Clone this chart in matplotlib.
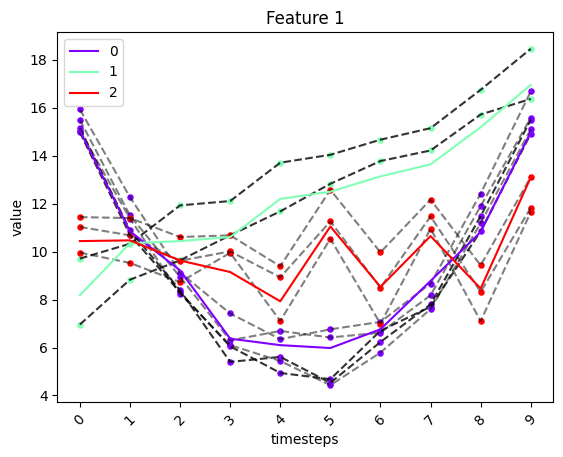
import matplotlib
matplotlib.use("Agg")
import matplotlib.pyplot as plt
import numpy as np

timesteps = list(range(10))
tick_labels = [str(t) for t in timesteps]

# cluster 0 (purple) member series
p1 = [15.93, 12.27, 9.13, 7.42, 6.35, 6.76, 7.07, 8.67, 12.42, 16.68]
p2 = [15.50, 11.51, 8.95, 6.30, 6.69, 6.42, 6.62, 8.18, 11.90, 15.58]
p3 = [15.05, 11.38, 8.25, 6.10, 5.44, 4.43, 5.79, 7.60, 11.19, 15.10]
p4 = [15.15, 10.89, 8.39, 5.40, 5.61, 4.53, 6.23, 7.80, 11.48, 15.50]
p5 = [14.98, 10.70, 8.30, 6.05, 4.94, 4.68, 6.70, 7.70, 10.85, 14.92]
# cluster 1 (green) member series
g1 = [9.71, 10.33, 11.93, 12.11, 13.71, 14.04, 14.67, 15.15, 16.75, 18.46]
g2 = [6.96, 8.83, 9.64, 10.68, 11.68, 12.83, 13.78, 14.22, 15.72, 16.37]
# cluster 2 (red) member series
r1 = [11.44, 11.40, 10.61, 10.68, 9.39, 12.58, 9.97, 12.17, 9.43, 13.11]
r2 = [11.03, 10.68, 9.62, 10.01, 8.93, 11.26, 8.50, 11.47, 8.32, 11.83]
r3 = [9.96, 9.53, 8.73, 9.95, 7.11, 10.54, 6.99, 10.96, 7.10, 11.65]

# cluster centers
center0 = [15.05, 10.85, 9.22, 6.37, 6.10, 5.98, 6.76, 8.78, 10.82, 14.98]
center1 = [8.18, 10.35, 10.44, 10.61, 12.20, 12.50, 13.14, 13.64, 15.19, 16.96]
center2 = [10.44, 10.47, 9.63, 9.15, 7.93, 11.05, 8.53, 10.65, 8.46, 13.10]

members = [[p1, p2, p3, p4, p5], [g1, g2], [r1, r2, r3]]
member_alpha = [[0.5, 0.5, 0.5, 0.8, 0.8], [0.8, 0.8], [0.5, 0.5, 0.5]]
centers = [center0, center1, center2]
labels = ["0", "1", "2"]

cmap = plt.get_cmap("rainbow")
colors = [cmap(i / 2) for i in range(3)]

fig = plt.figure(figsize=(5.63, 4.57), dpi=100)
ax = fig.add_axes([57.3 / 563, 55 / 457, 496 / 563, 370 / 457])

x = np.array(timesteps)
for k in range(3):
    for s in members[k]:
        ax.scatter(x, s, color=colors[k], s=22, zorder=2, linewidths=0)
for k in range(3):
    for s, a in zip(members[k], member_alpha[k]):
        ax.plot(x, s, "k--", alpha=a, linewidth=1.5, zorder=3)
for k in range(3):
    ax.plot(x, centers[k], color=colors[k], linewidth=1.5, label=labels[k], zorder=4)

ax.set_xticks(timesteps)
ax.set_xticklabels(tick_labels, rotation=45)
ax.set_title("Feature 1")
ax.set_xlabel("timesteps")
ax.set_ylabel("value")
ax.legend(loc="upper left")

fig.savefig("out.png", dpi=100)
